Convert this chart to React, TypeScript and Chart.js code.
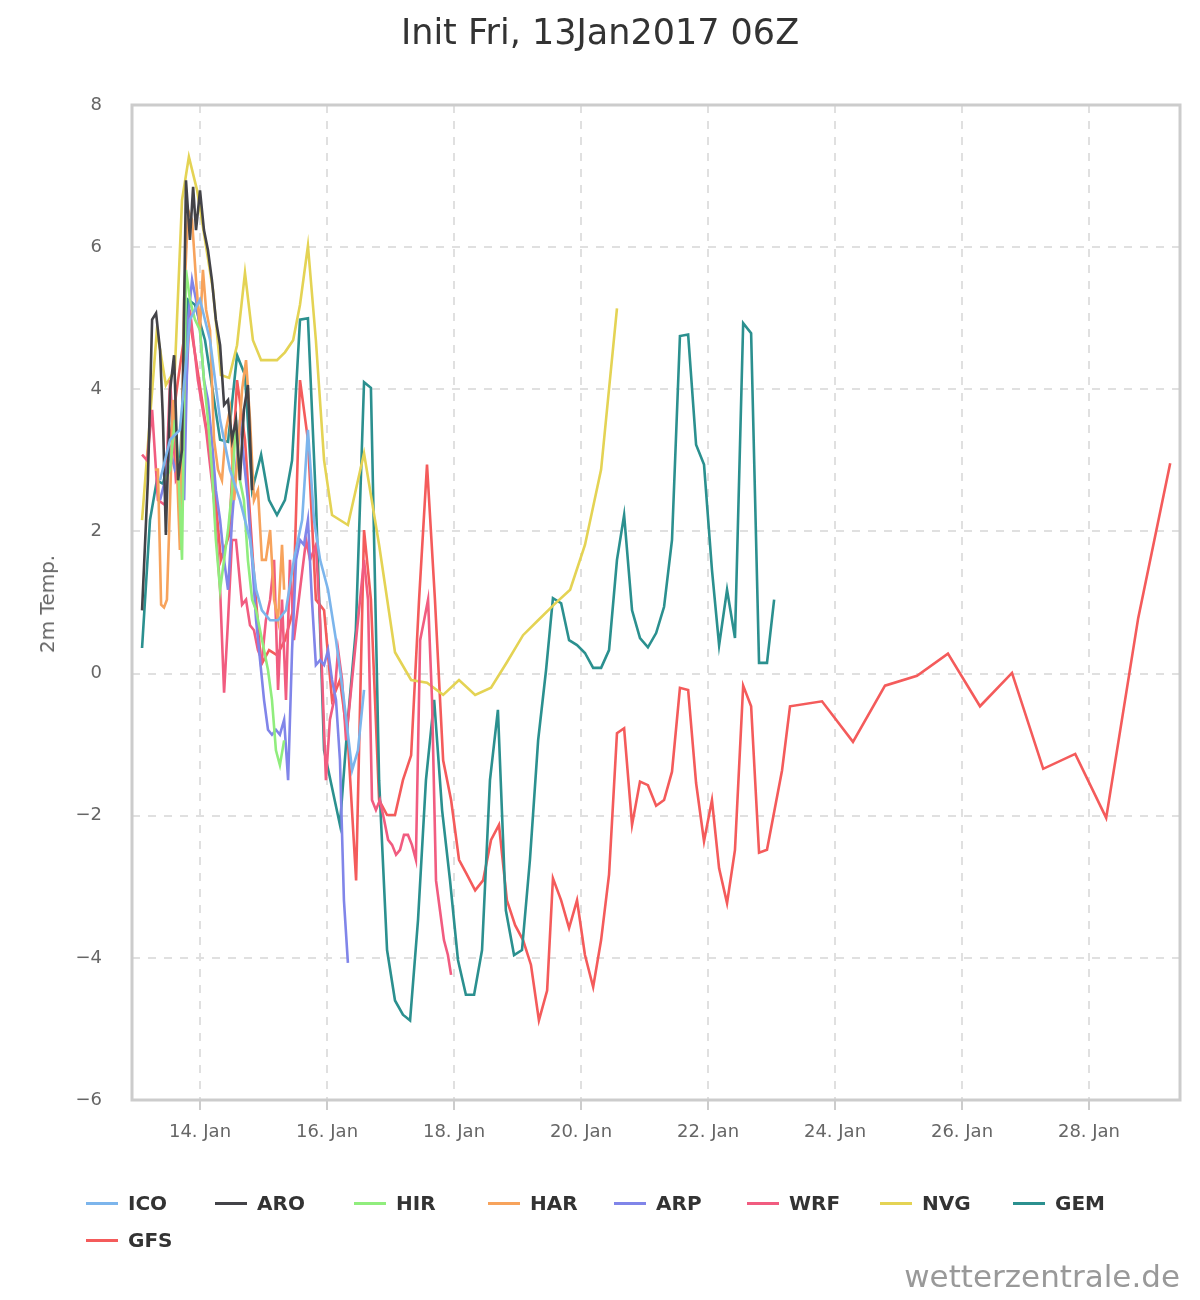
import React, { useEffect, useRef } from "react";
import { Chart, registerables } from "chart.js";
Chart.register(...registerables);

// hours since 13 Jan 00:00
const xTickHours = [24, 72, 120, 168, 216, 264, 312, 360];
const xTickLabels = ["14. Jan", "16. Jan", "18. Jan", "20. Jan", "22. Jan", "24. Jan", "26. Jan", "28. Jan"];

const icoT = [8.9,12.7,16.4,20.2,24,27.8,31.6,35.3,39.1,42.9,45.2,47.4,50.5,53.5,56.5,59.5,62.6,64.8,67.1,69.4,72.4,75.4,78.4,81.5,83.7,86];
const icoV = [2.72,3.29,3.43,4.98,5.26,4.69,3.57,2.87,2.44,1.88,1.18,0.89,0.75,0.75,0.89,1.6,2.16,3.43,2.16,1.6,1.18,0.47,-0.37,-1.36,-1.08,-0.23];

const aroT = [2.1,4.3,5.9,7.4,8.9,10,11.1,12.7,14.2,15.7,17.2,18.7,20.2,21.4,22.5,24,25.5,27,28.5,30,31.6,33.1,34.6,36.1,37.6,39.1,40.6,42.1,43.7];
const aroV = [0.89,2.72,4.98,5.07,4.55,3.57,1.95,3.99,4.48,2.72,3.15,6.94,6.1,6.85,6.24,6.8,6.24,5.96,5.54,4.98,4.62,3.78,3.85,3.29,3.57,2.72,3.71,4.06,2.58];

const hirT = [10.8,12.7,14.5,15.7,17.2,18.7,20.2,22.1,24,25.5,27,28.5,30,31.6,33.1,34.6,36.1,37.6,39.1,40.6,42.1,43.7,45.2,46.7,48.2,49.7,51.2,52.7,54.2,55.8];
const hirV = [2.72,2.87,3.57,3.0,1.6,5.68,5.26,4.98,4.83,4.13,3.57,2.87,1.88,1.18,1.6,2.02,2.58,3.57,2.72,2.44,1.6,1.04,0.89,0.61,0.33,0.05,-0.37,-1.08,-1.29,-0.94];

const harT = [7.0,8.1,9.3,10.4,11.5,12.7,13.8,14.9,16.4,18.0,19.5,21.0,22.5,24,25.1,26.3,27.8,29.3,30.8,32.3,33.8,35.3,36.9,38.4,39.9,41.4,42.9,44.4,45.9,47.4,48.9,50.5,52.0,53.5,55.0,55.8];
const harV = [2.87,2.87,0.97,0.93,1.04,2.44,3.85,3.29,1.74,5.26,6.52,6.38,5.54,4.83,5.68,5.12,4.83,3.29,2.87,2.72,3.43,3.71,2.44,3.15,3.99,4.41,3.57,2.44,2.58,1.6,1.6,2.02,1.04,0.75,1.81,1.18];

const arpT = [8.9,10.8,12.7,14.5,16.4,18,19.5,21,22.5,24,25.5,27,28.5,30,31.6,33.1,34.6,36.1,37.6,39.1,40.6,42.1,43.7,45.2,46.7,48.2,49.7,51.2,52.7,54.2,55.8,57.3,58.8,60.3,61.8,63.3,64.8,66.3,67.8,69.4,70.9,72.4,73.9,75.4,76.9,78.4,79.9];
const arpV = [2.44,2.72,3.15,2.87,3.0,2.44,4.98,5.54,5.26,4.83,4.13,3.85,3.29,2.58,2.16,1.6,1.18,2.16,2.87,3.57,3.0,2.44,1.6,0.75,0.19,-0.37,-0.79,-0.86,-0.79,-0.86,-0.65,-1.5,0.33,1.6,1.88,1.81,2.16,1.04,0.12,0.19,0.12,0.33,-0.09,-0.37,-1.22,-3.19,-4.07];

const wrfT = [2.1,4.0,5.9,8.1,10.8,12.7,14.9,17.2,20.2,23.2,26.3,29.3,31.6,33.1,34.6,36.1,37.6,39.9,41.4,42.9,44.4,45.9,47.4,48.9,50.5,52.0,53.5,55.0,56.5,58.0,59.5,61.8,64.1,65.6,67.8,69.4,71.6,73.1,74.7,76.2,77.7,79.2,86.0,87.5,89.0,90.5,92.0,93.6,95.1,96.6,98.1,99.6,101.1,102.6,104.1,105.6,107.2,108.7,110.2,111.7,113.2,114.7,116.2,117.7,118.9];
const wrfV = [3.08,3.0,3.71,2.44,2.37,4.13,2.72,2.87,5.12,4.13,3.43,2.44,1.18,-0.27,0.75,1.88,1.88,0.97,1.04,0.68,0.61,0.33,0.19,0.75,1.04,1.6,-0.23,1.04,-0.37,1.6,0.47,1.18,1.88,1.6,1.81,0.75,-1.5,-0.65,-0.37,0.33,-0.09,-0.94,1.6,1.04,-1.78,-1.92,-1.78,-2.06,-2.34,-2.41,-2.55,-2.48,-2.27,-2.27,-2.41,-2.62,0.47,0.75,1.04,-0.37,-2.91,-3.33,-3.75,-3.96,-4.24];

const nvgT = [2.1,7.7,11.1,14.5,17.2,19.8,22.9,25.9,28.9,31.9,35.0,38.0,41.0,44.0,47.1,50.1,53.1,56.1,59.2,61.8,64.8,67.8,70.9,73.9,79.9,86.0,91.7,97.7,103.8,109.8,115.9,121.9,128.0,134.0,140.0,146.1,151.8,157.8,163.9,169.5,175.6,181.6];
const nvgV = [2.16,4.83,4.06,4.27,6.66,7.27,6.8,6.1,5.4,4.2,4.16,4.62,5.64,4.69,4.41,4.41,4.41,4.52,4.69,5.19,6.02,4.69,3.0,2.23,2.09,3.1,1.81,0.3,-0.09,-0.13,-0.3,-0.09,-0.3,-0.2,0.16,0.54,0.75,0.97,1.18,1.81,2.87,5.14];

const gemT = [2.1,5.1,7.7,10.0,13.4,16.4,19.5,22.1,25.9,31.6,34.6,38.0,41.0,43.7,47.1,50.1,53.1,56.1,58.8,61.8,64.8,67.8,70.9,76.9,79.9,82.9,86.0,88.6,91.7,94.7,97.7,100.7,103.4,106.4,109.4,112.5,115.5,118.5,121.5,124.5,127.6,130.6,133.6,136.6,139.6,142.7,145.7,148.7,151.8,154.8,157.4,160.5,163.5,166.5,169.5,172.6,175.6,178.6,181.6,184.3,187.3,190.3,193.3,196.4,199.4,202.4,205.4,208.5,211.5,214.5,217.5,220.2,223.2,226.2,229.3,232.3,235.3,238.3,241.0];
const gemV = [0.36,2.16,2.72,2.67,3.22,2.94,5.26,5.19,4.69,3.29,3.26,4.48,4.2,2.58,3.08,2.44,2.23,2.44,3.0,4.98,5.0,2.44,-1.08,-2.13,-0.65,0.61,4.1,4.02,-1.5,-3.89,-4.6,-4.8,-4.88,-3.47,-1.5,-0.37,-1.92,-2.91,-4.03,-4.52,-4.52,-3.89,-1.5,-0.51,-3.33,-3.96,-3.89,-2.62,-0.94,0.05,1.06,0.99,0.47,0.4,0.29,0.08,0.08,0.33,1.6,2.23,0.89,0.5,0.37,0.57,0.94,1.88,4.75,4.77,3.22,2.94,1.46,0.4,1.18,0.5,4.93,4.79,0.15,0.15,1.04];

const gfsT = [12.7,15.7,19.5,22.5,25.9,28.9,31.9,35.0,38.0,41.0,44.0,47.1,50.1,53.1,56.1,59.2,61.8,64.8,67.8,70.9,73.9,76.9,79.9,83.0,86.0,88.6,91.7,94.7,97.7,100.7,103.8,106.8,109.8,112.8,115.9,118.9,121.9,124.9,128.0,131.0,134.0,137.0,140.0,143.1,146.1,149.1,152.1,155.2,157.4,160.5,163.5,166.5,169.5,172.6,175.6,178.6,181.6,184.3,187.3,190.3,193.3,196.4,199.4,202.4,205.4,208.5,211.5,214.5,217.5,220.2,223.2,226.2,229.3,232.3,235.3,238.3,244.0,247.0,259.1,270.8,282.9,295.0,306.7,318.8,330.9,342.7,354.8,366.5,378.6,390.7];
const gfsV = [3.29,4.13,5.12,4.41,3.57,2.87,1.6,1.95,4.13,3.29,1.6,0.12,0.33,0.26,0.47,0.89,4.13,3.29,1.04,0.89,-0.37,-0.09,-0.94,-2.91,2.02,1.04,-1.78,-1.99,-1.99,-1.5,-1.15,1.04,2.94,1.04,-1.22,-1.78,-2.62,-2.83,-3.05,-2.91,-2.34,-2.13,-3.19,-3.54,-3.75,-4.1,-4.88,-4.46,-2.88,-3.19,-3.58,-3.19,-3.96,-4.41,-3.75,-2.83,-0.84,-0.77,-2.13,-1.52,-1.57,-1.86,-1.78,-1.38,-0.2,-0.23,-1.54,-2.36,-1.78,-2.74,-3.23,-2.48,-0.17,-0.46,-2.52,-2.48,-1.36,-0.46,-0.39,-0.96,-0.17,-0.03,0.28,-0.46,0.01,-1.34,-1.13,-2.03,0.78,2.96];

const seriesNames = ["ICO", "ARO", "HIR", "HAR", "ARP", "WRF", "NVG", "GEM", "GFS"];
const seriesColors = ["#7cb5ec", "#434348", "#90ed7d", "#f7a35c", "#8085e9", "#f15c80", "#e4d354", "#2b908f", "#f45b5b"];
const seriesT = [icoT, aroT, hirT, harT, arpT, wrfT, nvgT, gemT, gfsT];
const seriesV = [icoV, aroV, hirV, harV, arpV, wrfV, nvgV, gemV, gfsV];

const legendX = [86, 215, 354, 488, 614, 747, 880, 1013, 86];
const legendY = [1203, 1203, 1203, 1203, 1203, 1203, 1203, 1203, 1240];

const FONT = "'DejaVu Sans', sans-serif";

const framePlugin = {
  id: "frame",
  afterDraw(chart: any) {
    const { ctx, chartArea: a } = chart;
    ctx.save();
    ctx.strokeStyle = "#cccccc";
    ctx.lineWidth = 3;
    ctx.strokeRect(a.left, a.top, a.right - a.left, a.bottom - a.top);
    ctx.restore();
  },
};

export default function App() {
  const ref = useRef<HTMLCanvasElement>(null);
  useEffect(() => {
    const datasets = seriesNames.map((n, i) => ({
      label: n,
      data: seriesT[i].map((t, j) => ({ x: t, y: seriesV[i][j] })),
      borderColor: seriesColors[i],
      backgroundColor: seriesColors[i],
      borderWidth: 2.6,
      pointRadius: 0,
      tension: 0,
      fill: false,
    }));
    const chart = new Chart(ref.current!, {
      type: "line",
      data: { datasets },
      plugins: [framePlugin],
      options: {
        animation: false,
        responsive: false,
        layout: { padding: { left: 0, top: 105, right: 20, bottom: 0 } },
        plugins: { legend: { display: false }, tooltip: { enabled: false }, title: { display: false } },
        scales: {
          x: {
            type: "linear",
            min: -1.7,
            max: 394.4,
            afterFit: (s: any) => { s.height = 200; },
            afterBuildTicks: (s: any) => { s.ticks = xTickHours.map((v) => ({ value: v })); },
            ticks: {
              callback: (v: any) => { const k = xTickHours.indexOf(Number(v)); return k >= 0 ? xTickLabels[k] : ""; },
              color: "#666666",
              font: { family: FONT, size: 18 },
              padding: 12,
              maxRotation: 0,
            },
            grid: { color: "#e0e0e0", lineWidth: 2, tickLength: 10, tickColor: "#cccccc" },
            border: { display: false, dash: [8, 8] },
          },
          y: {
            min: -6,
            max: 8,
            afterFit: (s: any) => { s.width = 132; },
            ticks: {
              stepSize: 2,
              callback: (v: any) => (Number(v) < 0 ? "\u2212" + Math.abs(Number(v)) : String(v)),
              color: "#666666",
              font: { family: FONT, size: 18 },
              padding: 30,
            },
            grid: { color: "#e0e0e0", lineWidth: 2, drawTicks: false },
            border: { display: false, dash: [8, 8] },
          },
        },
      },
    });
    return () => chart.destroy();
  }, []);

  return (
    <div style={{ position: "absolute", left: 0, top: 0, width: 1200, height: 1300, background: "#fff", fontFamily: FONT }}>
      <canvas ref={ref} width={1200} height={1300} style={{ position: "absolute", left: 0, top: 0 }} />
      <div style={{ position: "absolute", left: 0, width: 1200, top: 12, textAlign: "center", fontSize: 35, color: "#333" }}>
        Init Fri, 13Jan2017 06Z
      </div>
      <div style={{ position: "absolute", left: 47, top: 604, transform: "translate(-50%,-50%) rotate(-90deg)", fontSize: 20, color: "#666", whiteSpace: "nowrap" }}>
        2m Temp.
      </div>
      {seriesNames.map((n, i) => (
        <div key={n} style={{ position: "absolute", left: legendX[i], top: legendY[i] - 15, height: 30, display: "flex", alignItems: "center" }}>
          <div style={{ width: 32, height: 3, background: seriesColors[i], marginRight: 10 }} />
          <span style={{ fontWeight: "bold", fontSize: 20, color: "#333" }}>{n}</span>
        </div>
      ))}
      <div style={{ position: "absolute", right: 20, top: 1258, fontSize: 31, color: "#999" }}>wetterzentrale.de</div>
    </div>
  );
}
